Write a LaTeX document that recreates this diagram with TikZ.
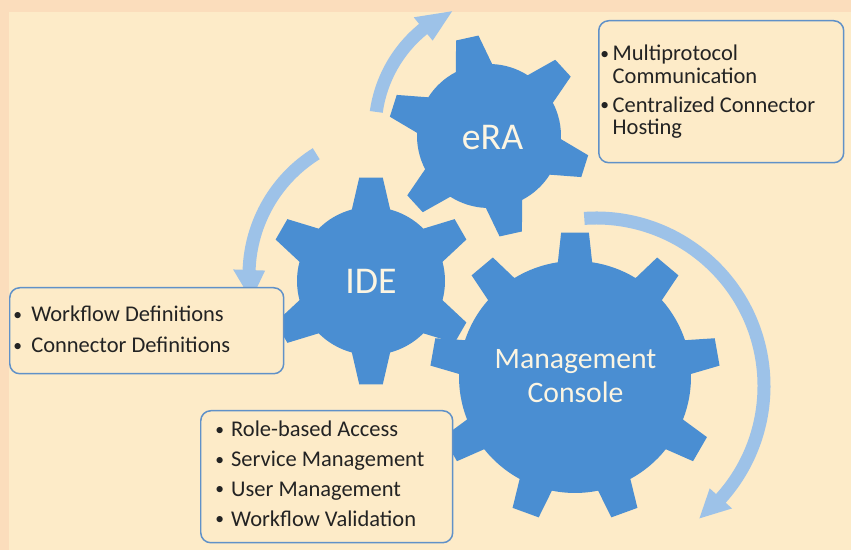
\documentclass[tikz,border=0pt]{standalone}
\usepackage{fontspec}
\setmainfont{Carlito}
\usetikzlibrary{positioning}

\definecolor{slidebg}{RGB}{253,235,200}
\definecolor{slideedge}{RGB}{251,221,188}
\definecolor{gearblue}{RGB}{74,142,210}
\definecolor{arrowblue}{RGB}{157,194,232}
\definecolor{boxline}{RGB}{96,145,200}
\definecolor{geartext}{RGB}{252,245,226}
\definecolor{listtext}{RGB}{35,35,35}

\tikzset{
  mygear/.style={
    fill=gearblue,
  },
  myarrowfill/.style={
    fill=arrowblue,
  },
  mybox/.style={
    draw=boxline,
    fill=slidebg,
    line width=0.85pt,
    rounded corners=0.2cm,
    inner sep=0pt,
  },
  mylabel/.style={
    text=geartext,
    align=center,
    inner sep=0pt,
  },
  mylist/.style={
    text=listtext,
    inner sep=0pt,
    font=\fontsize{12.8}{12.8}\selectfont,
  }
}

\newcommand{\listdot}[1]{\makebox[#1][l]{\raisebox{0.08em}{\scalebox{0.78}{\textbullet}}}}

% centre x, centre y, teeth, inner r, outer r, turn, half angle at root, half angle at tip
\newcommand{\drawgear}[8]{%
  \fill[mygear, shift={(#1,#2)}] ({#6-#7}:#4)
    \foreach \tooth in {1,...,#3}{
      -- ({#6+(\tooth-1)*360/#3-#8}:#5)
      -- ({#6+(\tooth-1)*360/#3+#8}:#5)
      -- ({#6+(\tooth-1)*360/#3+#7}:#4)
      arc[start angle={#6+(\tooth-1)*360/#3+#7}, end angle={#6+\tooth*360/#3-#7}, radius=#4]
    } -- cycle;}

% centre x, centre y, radius, band width, from, to, tip, head width
\newcommand{\roundarrow}[8]{%
  \pgfmathsetmacro\bandout{#3+#4/2}
  \pgfmathsetmacro\bandin{#3-#4/2}
  \pgfmathsetmacro\headout{#3+#8/2}
  \pgfmathsetmacro\headin{#3-#8/2}
  \fill[myarrowfill, shift={(#1,#2)}]
    (#5:\bandout) arc[start angle=#5, end angle=#6, radius=\bandout]
    -- (#6:\headout) -- (#7:#3) -- (#6:\headin)
    -- (#6:\bandin) arc[start angle=#6, end angle=#5, radius=\bandin]
    -- cycle;}

\begin{document}
\begin{tikzpicture}[x=0.02cm, y=0.02cm]
  \useasboundingbox (0,0) rectangle (851,550);
  \fill[slideedge] (0,0) rectangle (851,550);
  \fill[slidebg] (9,0) rectangle (851,538);

  % turning arrows
  \begin{scope}
    \clip (9,0) rectangle (851,538);
    \roundarrow{505}{420}{130}{13}{172}{129}{114}{30}
    \roundarrow{392}{275}{143}{13}{122}{178}{190}{32}
    \roundarrow{596}{164}{168}{13}{94}{-42}{-52}{30}
  \end{scope}

  % gears
  \drawgear{489}{414}{6}{72}{101}{42.5}{15}{6.5}
  \drawgear{371}{269}{6}{74}{104}{30}{15}{6.5}
  \drawgear{575}{173}{9}{116}{145}{10}{8.5}{5.5}

  \node[mylabel, font=\fontsize{21.5}{24}\selectfont, anchor=base] (era) at (492.5,400) {eRA};
  \node[mylabel, font=\fontsize{21.5}{24}\selectfont, anchor=base] (ide) at (371,256) {IDE};
  \node[mylabel, font=\fontsize{16.9}{19.8}\selectfont] (console) at (575.5,174) {Management\\Console};

  % feature boxes
  \node[mybox, minimum width=4.9cm, minimum height=2.84cm, anchor=north west] (erabox) at (598,530) {};
  \node[mybox, minimum width=5.48cm, minimum height=1.72cm, anchor=north west] (idebox) at (9,263) {};
  \node[mybox, minimum width=5.04cm, minimum height=2.64cm, anchor=north west] (consolebox) at (200,140) {};

  \node[mylist, anchor=base west] (eralist) at ([shift={(2,-41)}]erabox.north west) {%
    \begin{tabular}[t]{@{}l@{}l@{}}
      \listdot{7pt} & Multiprotocol\\
                    & Communication\\[3.6pt]
      \listdot{7pt} & Centralized Connector\\
                    & Hosting
    \end{tabular}};
  \node[mylist, anchor=base west] (idelist) at ([shift={(4,-35)}]idebox.north west) {%
    \begin{tabular}[t]{@{}l@{}l@{}}
      \listdot{10.2pt} & Workflow Definitions\\[4.8pt]
      \listdot{10.2pt} & Connector Definitions
    \end{tabular}};
  \node[mylist, anchor=base west] (consolelist) at ([shift={(15,-27)}]consolebox.north west) {%
    \begin{tabular}[t]{@{}l@{}l@{}}
      \listdot{9pt} & Role-based Access\\[4.2pt]
      \listdot{9pt} & Service Management\\[4.2pt]
      \listdot{9pt} & User Management\\[4.2pt]
      \listdot{9pt} & Workflow Validation
    \end{tabular}};
\end{tikzpicture}
\end{document}
